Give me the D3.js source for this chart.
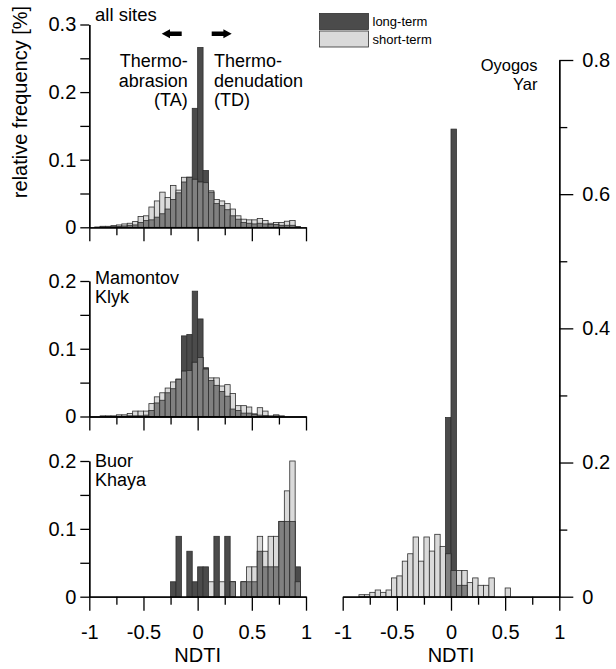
<!DOCTYPE html>
<meta charset="utf-8">
<style>
  body { margin: 0; background: #fff; }
  text { font-family: "Liberation Sans", Arial, sans-serif; fill: #000; }
  .axis path, .axis line { stroke: #000; stroke-width: 1.3px; }
  .axis text { font-size: 20px; font-family: "Liberation Sans", Arial, sans-serif; }
  .bar { stroke: #2e2e2e; stroke-width: 0.8px; }
</style>
<svg width="616" height="669"></svg>
<script src="https://cdn.jsdelivr.net/npm/d3@7"></script>
<script>

  // NDTI bins, width 0.05 from -1 to 1
  var binStarts = d3.range(40).map(function (i) { return -1 + i * 0.05; });
  var binWidth = 0.05;

  // all sites
  var allLong = [0, 0, 0.0005, 0.0005, 0.001, 0.0015, 0.002, 0.003, 0.0035, 0.007,
    0.010, 0.011, 0.015, 0.020, 0.027, 0.041, 0.051, 0.067, 0.074, 0.176,
    0.266, 0.084, 0.052, 0.035, 0.032, 0.026, 0.017, 0.012, 0.007, 0.006,
    0.005, 0.006, 0.005, 0.004, 0.004, 0.003, 0.003, 0.003, 0.0005, 0];
  var allShort = [0, 0.0005, 0.0015, 0.0015, 0.0025, 0.0035, 0.005, 0.006, 0.0085, 0.016,
    0.017, 0.030, 0.039, 0.052, 0.044, 0.062, 0.055, 0.074, 0.074, 0.071,
    0.067, 0.066, 0.054, 0.041, 0.039, 0.035, 0.027, 0.017, 0.012, 0.011,
    0.011, 0.013, 0.010, 0.006, 0.007, 0.007, 0.009, 0.010, 0.001, 0];

  // Mamontov Klyk
  var mkLong = [0, 0, 0, 0, 0, 0.0005, 0.0005, 0.001, 0.001, 0.001,
    0.002, 0.009, 0.020, 0.024, 0.035, 0.041, 0.055, 0.119, 0.121, 0.185,
    0.144, 0.072, 0.053, 0.046, 0.037, 0.030, 0.011, 0.009, 0.005, 0.005,
    0.003, 0.002, 0.0015, 0, 0.001, 0, 0, 0, 0, 0];
  var mkShort = [0, 0, 0.001, 0.001, 0.001, 0.0025, 0.0025, 0.0045, 0.008, 0.008,
    0.008, 0.019, 0.029, 0.035, 0.042, 0.051, 0.055, 0.067, 0.068, 0.080,
    0.087, 0.070, 0.057, 0.057, 0.045, 0.047, 0.034, 0.016, 0.016, 0.014,
    0.004, 0.013, 0.008, 0.001, 0.0025, 0.001, 0, 0, 0, 0];

  // Buor Khaya
  var bkLong = [0, 0, 0, 0, 0, 0, 0, 0, 0, 0,
    0, 0, 0, 0, 0, 0.022, 0.089, 0, 0.067, 0.022,
    0.044, 0.044, 0, 0.089, 0, 0.089, 0.022, 0, 0.022, 0.022,
    0.022, 0.067, 0.044, 0.044, 0.044, 0.111, 0.111, 0.111, 0.044, 0];
  var bkShort = [0, 0, 0, 0, 0, 0, 0, 0, 0, 0,
    0, 0, 0, 0, 0, 0, 0, 0, 0, 0,
    0, 0, 0.022, 0, 0.022, 0, 0.022, 0, 0.022, 0.044,
    0.044, 0.089, 0.067, 0.089, 0.089, 0.111, 0.156, 0.200, 0.022, 0];

  // Oyogos Yar
  var oyLong = [0, 0, 0, 0, 0, 0, 0, 0, 0, 0,
    0, 0, 0, 0, 0, 0, 0, 0, 0, 0.267,
    0.697, 0.017, 0.017, 0, 0, 0, 0, 0, 0, 0,
    0, 0, 0, 0, 0, 0, 0, 0, 0, 0];
  var oyShort = [0, 0, 0, 0.003, 0.003, 0.0065, 0.010, 0.0065, 0.010, 0.028,
    0.031, 0.053, 0.064, 0.089, 0.053, 0.089, 0.068, 0.093, 0.075, 0.064,
    0.039, 0.039, 0.039, 0.021, 0.028, 0.017, 0.017, 0.028, 0, 0,
    0.013, 0, 0, 0, 0, 0, 0, 0, 0, 0];

  var majorX = [-1, -0.5, 0, 0.5, 1];
  var minorX = [-0.75, -0.25, 0.25, 0.75];

  var colLong = "#4b4b4b", colShort = "#dadada", colBoth = "#808080";

  var svg = d3.select("svg");

  var xLeft = d3.scaleLinear().domain([-1, 1]).range([89.3, 306]);
  var xRight = d3.scaleLinear().domain([-1, 1]).range([342.7, 559.3]);

  var panels = [
    { x: xLeft, y: d3.scaleLinear().domain([0, 0.3]).range([227.3, 24.5]), lng: allLong, sht: allShort,
      major: [0, 0.1, 0.2, 0.3], minor: [0.05, 0.15, 0.25], side: "left", xlabels: false },
    { x: xLeft, y: d3.scaleLinear().domain([0, 0.2]).range([416.5, 281]), lng: mkLong, sht: mkShort,
      major: [0, 0.1, 0.2], minor: [0.05, 0.15], side: "left", xlabels: false },
    { x: xLeft, y: d3.scaleLinear().domain([0, 0.2]).range([596.7, 461]), lng: bkLong, sht: bkShort,
      major: [0, 0.1, 0.2], minor: [0.05, 0.15], side: "left", xlabels: true },
    { x: xRight, y: d3.scaleLinear().domain([0, 0.8]).range([596.7, 60]), lng: oyLong, sht: oyShort,
      major: [0, 0.2, 0.4, 0.6, 0.8], minor: [0.1, 0.3, 0.5, 0.7], side: "right", xlabels: true }
  ];

  function fmt(d) { return d === 0 ? "0" : String(d); }

  panels.forEach(function (p) {
    var g = svg.append("g");
    var data = binStarts.map(function (b, i) {
      return { b: b, lng: p.lng[i], sht: p.sht[i] };
    });

    function addBars(val, color) {
      g.append("g").selectAll("rect")
        .data(data.filter(function (d) { return val(d) > 0; }))
        .enter().append("rect")
        .attr("class", "bar")
        .attr("x", function (d) { return p.x(d.b); })
        .attr("width", function (d) { return p.x(d.b + binWidth) - p.x(d.b); })
        .attr("y", function (d) { return p.y(val(d)); })
        .attr("height", function (d) { return p.y(0) - p.y(val(d)); })
        .attr("fill", color);
    }
    addBars(function (d) { return d.lng; }, colLong);
    addBars(function (d) { return d.sht; }, colShort);
    addBars(function (d) { return Math.min(d.lng, d.sht); }, colBoth);

    // x axes
    var y0 = p.y(0);
    g.append("g").attr("class", "axis").attr("transform", "translate(0," + y0 + ")")
      .call(d3.axisBottom(p.x).tickValues(majorX).tickSize(14).tickSizeOuter(0).tickPadding(14)
        .tickFormat(p.xlabels ? fmt : function () { return ""; }));
    g.append("g").attr("class", "axis").attr("transform", "translate(0," + y0 + ")")
      .call(d3.axisBottom(p.x).tickValues(minorX).tickSize(8).tickSizeOuter(0)
        .tickFormat(function () { return ""; }));

    // y axes
    if (p.side === "left") {
      var ax = p.x(-1);
      g.append("g").attr("class", "axis").attr("transform", "translate(" + ax + ",0)")
        .call(d3.axisLeft(p.y).tickValues(p.major).tickSize(9).tickSizeOuter(0).tickPadding(4).tickFormat(fmt));
      g.append("g").attr("class", "axis").attr("transform", "translate(" + ax + ",0)")
        .call(d3.axisLeft(p.y).tickValues(p.minor).tickSize(9).tickSizeOuter(0)
          .tickFormat(function () { return ""; }));
    } else {
      var rx = p.x(1);
      g.append("g").attr("class", "axis").attr("transform", "translate(" + rx + ",0)")
        .call(d3.axisRight(p.y).tickValues(p.major).tickSize(14).tickSizeOuter(0).tickPadding(9).tickFormat(fmt));
      g.append("g").attr("class", "axis").attr("transform", "translate(" + rx + ",0)")
        .call(d3.axisRight(p.y).tickValues(p.minor).tickSize(8).tickSizeOuter(0)
          .tickFormat(function () { return ""; }));
    }
  });

  // remove the d3 default font on axes
  svg.selectAll(".axis").attr("font-family", null).attr("font-size", null);

  // axis titles
  svg.append("text")
    .attr("transform", "translate(27,102) rotate(-90)")
    .attr("text-anchor", "middle")
    .style("font-size", "20px")
    .text("relative frequency [%]");
  svg.append("text").attr("x", xLeft(0)).attr("y", 662).attr("text-anchor", "middle")
    .style("font-size", "20px").text("NDTI");
  svg.append("text").attr("x", xRight(0)).attr("y", 662).attr("text-anchor", "middle")
    .style("font-size", "20px").text("NDTI");

  // panel labels
  function lines(x, ys, strs, anchor, size) {
    strs.forEach(function (s, i) {
      svg.append("text").attr("x", x).attr("y", ys[i]).attr("text-anchor", anchor)
        .style("font-size", size + "px").text(s);
    });
  }
  lines(95, [20.5], ["all sites"], "start", 18.5);
  lines(95, [283.5, 303], ["Mamontov", "Klyk"], "start", 18);
  lines(95, [466.7, 486], ["Buor", "Khaya"], "start", 18);
  lines(537.5, [71, 89.5], ["Oyogos", "Yar"], "end", 16.5);
  lines(187.7, [66.5, 86.5, 106], ["Thermo-", "abrasion", "(TA)"], "end", 18);
  lines(214, [66.5, 86.5, 106], ["Thermo-", "denudation", "(TD)"], "start", 18);

  // arrows
  svg.append("path")
    .attr("d", "M161.7,33.8 L170,29.3 L170,31.6 L181.7,31.6 L181.7,36 L170,36 L170,38.3 Z")
    .attr("fill", "#000");
  svg.append("path")
    .attr("d", "M231.7,33.8 L223.4,29.3 L223.4,31.6 L211.7,31.6 L211.7,36 L223.4,36 L223.4,38.3 Z")
    .attr("fill", "#000");

  // legend
  var legend = [{ name: "long-term", color: colLong }, { name: "short-term", color: colShort }];
  var lg = svg.append("g").attr("transform", "translate(319.5,13.5)");
  lg.selectAll("rect").data(legend).enter().append("rect")
    .attr("class", "bar")
    .attr("x", 0).attr("y", function (d, i) { return i * 17.5; })
    .attr("width", 49).attr("height", 16)
    .attr("fill", function (d) { return d.color; });
  lg.selectAll("text").data(legend).enter().append("text")
    .attr("x", 53).attr("y", function (d, i) { return 12.5 + i * 17.5; })
    .style("font-size", "13px")
    .text(function (d) { return d.name; });
</script>
